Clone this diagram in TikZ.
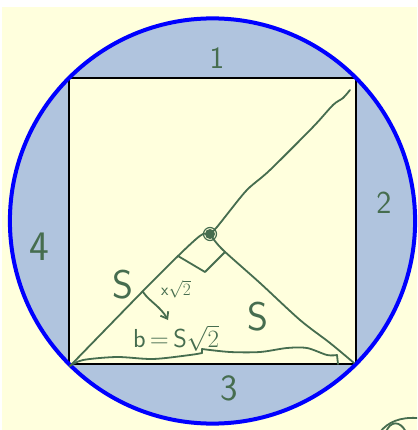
\documentclass[tikz,border=0pt]{standalone}
\usetikzlibrary{arrows.meta}
\definecolor{bgyellow}{HTML}{FFFFDD}
\definecolor{ringblue}{HTML}{B0C4DE}
\definecolor{penblue}{HTML}{0000FF}
\definecolor{pengreen}{HTML}{466D4F}
\tikzset{
  hand/.style={draw=pengreen, line width=1.8pt, line cap=round, line join=round},
  handtext/.style={text=pengreen, inner sep=0pt, font=\sffamily},
}
\begin{document}
\begin{tikzpicture}[x=1pt,y=-1pt]
\useasboundingbox (0,0) rectangle (417,430);
\clip (0,0) rectangle (417,430);
% background
\fill[bgyellow] (2,7) rectangle (417,430);
% circle with square
\fill[ringblue] (212.5,221) circle[radius=202.6];
\fill[bgyellow] (69,78) rectangle (356,364);
\draw[black, line width=2.5pt] (69,78) rectangle (356,364);
\draw[penblue, line width=4pt] (212.5,221) circle[radius=202.6];
% key points
\coordinate (bl) at (70,366);
\coordinate (br) at (354,363);
\coordinate (apex) at (210,234);
\coordinate (tr) at (350,90);
% diagonal from apex to top right
\draw[hand] plot[smooth, tension=0.5] coordinates {(apex) (217,227) (240,198) (250,187) (270,170) (313,127) (333,105) (343,98) (tr)};
% left side of triangle
\draw[hand] plot[smooth, tension=0.5] coordinates {(bl) (142,292) (178,256) (195,240) (203,234) (apex)};
% right side of triangle
\draw[hand] plot[smooth, tension=0.5] coordinates {(212,237) (223,250) (260,283) (300,320) (330,343) (br)};
% right angle mark
\draw[hand] (178,256) -- (205,272) -- (225,252);
% apex dot
\fill[pengreen] (apex) circle[radius=5];
\draw[hand, line width=1.2pt] (apex) circle[radius=6.5];
% bottom wavy line
\draw[hand] plot[smooth, tension=0.5] coordinates {(bl) (83,360) (117,357) (153,359) (190,355) (202,353)};
\draw[hand] plot[smooth, tension=0.5] coordinates {(202,349) (230,352) (260,352) (287,348) (307,348) (327,355) (337,355)};
\draw[hand] (202,349) -- (202,353);
\draw[hand] (337,355) -- (338,364);
% arrow
\draw[hand, -{Straight Barb[length=6pt,width=9pt]}] (143,292) .. controls (150,302) and (160,306) .. (168,320);
% bottom right scribble
\draw[hand] (380,432) .. controls (388,422) and (400,417) .. (417,418);
\draw[hand] (386,432) .. controls (390,421) and (400,420) .. (406,432);
% labels
\node[handtext, font=\sffamily\fontsize{31}{31}\selectfont] (l1) at (217,58) {1};
\node[handtext, font=\sffamily\fontsize{32}{32}\selectfont] (l2) at (384,203) {2};
\node[handtext, font=\sffamily\fontsize{37}{37}\selectfont] (l3) at (229,388) {3};
\node[handtext, font=\sffamily\fontsize{42}{42}\selectfont] (l4) at (39,247) {4};
\node[handtext, font=\sffamily\fontsize{40}{40}\selectfont] (s1) at (123,285) {S};
\node[handtext, font=\sffamily\fontsize{40}{40}\selectfont] (s2) at (258,317) {S};
\node[handtext, font=\sffamily\fontsize{17}{17}\selectfont] (xr) at (176,289) {x$\sqrt{2}$};
\node[handtext, font=\sffamily\fontsize{26}{26}\selectfont] (bs) at (176,338) {b\,=\,S$\sqrt{2}$};
\end{tikzpicture}
\end{document}
